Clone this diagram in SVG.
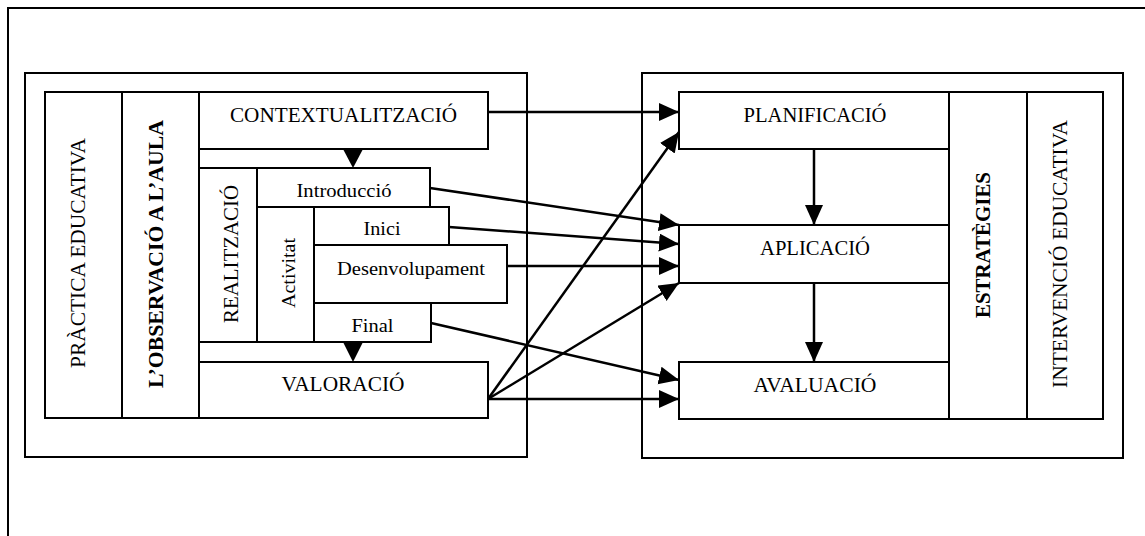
<svg xmlns="http://www.w3.org/2000/svg" width="1145" height="536" viewBox="0 0 1145 536" font-family="'Liberation Serif', 'DejaVu Serif', serif">
<style>
.box{fill:#fff;stroke:#000;stroke-width:2}
.frame{fill:none;stroke:#000;stroke-width:2}
text{font-family:'Liberation Serif','DejaVu Serif',serif}
.t{font-size:20px;fill:#000;text-anchor:middle}
.s{font-size:19px}
.b{font-weight:bold}
.c{fill:none;stroke:#000;stroke-width:2.5}
.head{fill:#000}
</style>
<defs>
<marker id="arr" markerUnits="userSpaceOnUse" markerWidth="22" markerHeight="20" refX="20" refY="9" orient="auto" viewBox="0 0 22 20">
<path d="M0,0 L20,9 L0,18 z" class="head"/>
</marker>
</defs>
<rect width="1145" height="536" fill="#fff"/>
<g id="page-frame">
<path class="frame" d="M8,536 L8,8 L1145,8"/>
</g>
<g id="left-panel">
<rect class="box" x="25" y="73" width="502" height="384"/>
</g>
<g id="right-panel">
<rect class="box" x="642" y="73" width="481" height="385"/>
</g>
<g id="practica">
<rect class="box" x="45" y="92" width="77" height="326"/>
<text class="t" font-family="Liberation Serif" transform="translate(85,253) rotate(-90)" textLength="230" lengthAdjust="spacingAndGlyphs">PRÀCTICA EDUCATIVA</text>
</g>
<g id="observacio">
<rect class="box" x="122" y="92" width="77" height="326"/>
<text class="t b" font-family="Liberation Serif" transform="translate(163,254) rotate(-90)" textLength="268" lengthAdjust="spacingAndGlyphs">L’OBSERVACIÓ A L’AULA</text>
</g>
<g id="contextualitzacio">
<rect class="box" x="199" y="92" width="289" height="57"/>
<text class="t" font-family="Liberation Serif" x="343.5" y="122" textLength="227" lengthAdjust="spacingAndGlyphs">CONTEXTUALITZACIÓ</text>
</g>
<g id="realitzacio">
<rect class="box" x="199" y="168" width="58" height="174"/>
<text class="t" font-family="Liberation Serif" transform="translate(238,254) rotate(-90)" textLength="138" lengthAdjust="spacingAndGlyphs">REALITZACIÓ</text>
</g>
<g id="introduccio">
<rect class="box" x="257" y="168" width="173" height="39"/>
<text class="t s" font-family="Liberation Serif" x="344" y="197" textLength="95" lengthAdjust="spacingAndGlyphs">Introducció</text>
</g>
<g id="activitat">
<rect class="box" x="257" y="207" width="57" height="135"/>
<text class="t s" font-family="Liberation Serif" transform="translate(295,273) rotate(-90)" textLength="70" lengthAdjust="spacingAndGlyphs">Activitat</text>
</g>
<g id="inici">
<rect class="box" x="314" y="207" width="135" height="38"/>
<text class="t s" font-family="Liberation Serif" x="382" y="235" textLength="37" lengthAdjust="spacingAndGlyphs">Inici</text>
</g>
<g id="desenvolupament">
<rect class="box" x="314" y="245" width="193" height="58"/>
<text class="t s" font-family="Liberation Serif" x="411" y="275" textLength="148" lengthAdjust="spacingAndGlyphs">Desenvolupament</text>
</g>
<g id="final">
<rect class="box" x="314" y="303" width="117" height="39"/>
<text class="t s" font-family="Liberation Serif" x="372.5" y="332" textLength="42" lengthAdjust="spacingAndGlyphs">Final</text>
</g>
<g id="valoracio">
<rect class="box" x="199" y="362" width="289" height="56"/>
<text class="t" font-family="Liberation Serif" x="343" y="391" textLength="123" lengthAdjust="spacingAndGlyphs">VALORACIÓ</text>
</g>
<g id="planificacio">
<rect class="box" x="679" y="92" width="270" height="57"/>
<text class="t" font-family="Liberation Serif" x="815" y="122" textLength="143" lengthAdjust="spacingAndGlyphs">PLANIFICACIÓ</text>
</g>
<g id="aplicacio">
<rect class="box" x="679" y="225" width="270" height="58"/>
<text class="t" font-family="Liberation Serif" x="815" y="255" textLength="110" lengthAdjust="spacingAndGlyphs">APLICACIÓ</text>
</g>
<g id="avaluacio">
<rect class="box" x="679" y="362" width="270" height="57"/>
<text class="t" font-family="Liberation Serif" x="815" y="392" textLength="123" lengthAdjust="spacingAndGlyphs">AVALUACIÓ</text>
</g>
<g id="estrategies">
<rect class="box" x="949" y="92" width="78" height="327"/>
<text class="t b" font-family="Liberation Serif" transform="translate(990,245) rotate(-90)" textLength="146" lengthAdjust="spacingAndGlyphs">ESTRATÈGIES</text>
</g>
<g id="intervencio">
<rect class="box" x="1027" y="92" width="76" height="327"/>
<text class="t" font-family="Liberation Serif" transform="translate(1067,254) rotate(-90)" textLength="268" lengthAdjust="spacingAndGlyphs">INTERVENCIÓ EDUCATIVA</text>
</g>
<g id="connectors">
<line class="c" x1="488" y1="112" x2="679" y2="112" marker-end="url(#arr)"/>
<line class="c" x1="430" y1="188" x2="679" y2="225" marker-end="url(#arr)"/>
<line class="c" x1="449" y1="227" x2="679" y2="244" marker-end="url(#arr)"/>
<line class="c" x1="507" y1="266" x2="679" y2="266" marker-end="url(#arr)"/>
<line class="c" x1="431" y1="323" x2="679" y2="380" marker-end="url(#arr)"/>
<line class="c" x1="488" y1="399" x2="679" y2="132" marker-end="url(#arr)"/>
<line class="c" x1="488" y1="399" x2="679" y2="283" marker-end="url(#arr)"/>
<line class="c" x1="488" y1="399" x2="679" y2="399" marker-end="url(#arr)"/>
<line class="c" x1="814" y1="149" x2="814" y2="225" marker-end="url(#arr)"/>
<line class="c" x1="814" y1="283" x2="814" y2="362" marker-end="url(#arr)"/>
<polygon class="head" points="343,149 363,149 353,168"/>
<polygon class="head" points="343,342 363,342 353,362"/>
</g>
</svg>
